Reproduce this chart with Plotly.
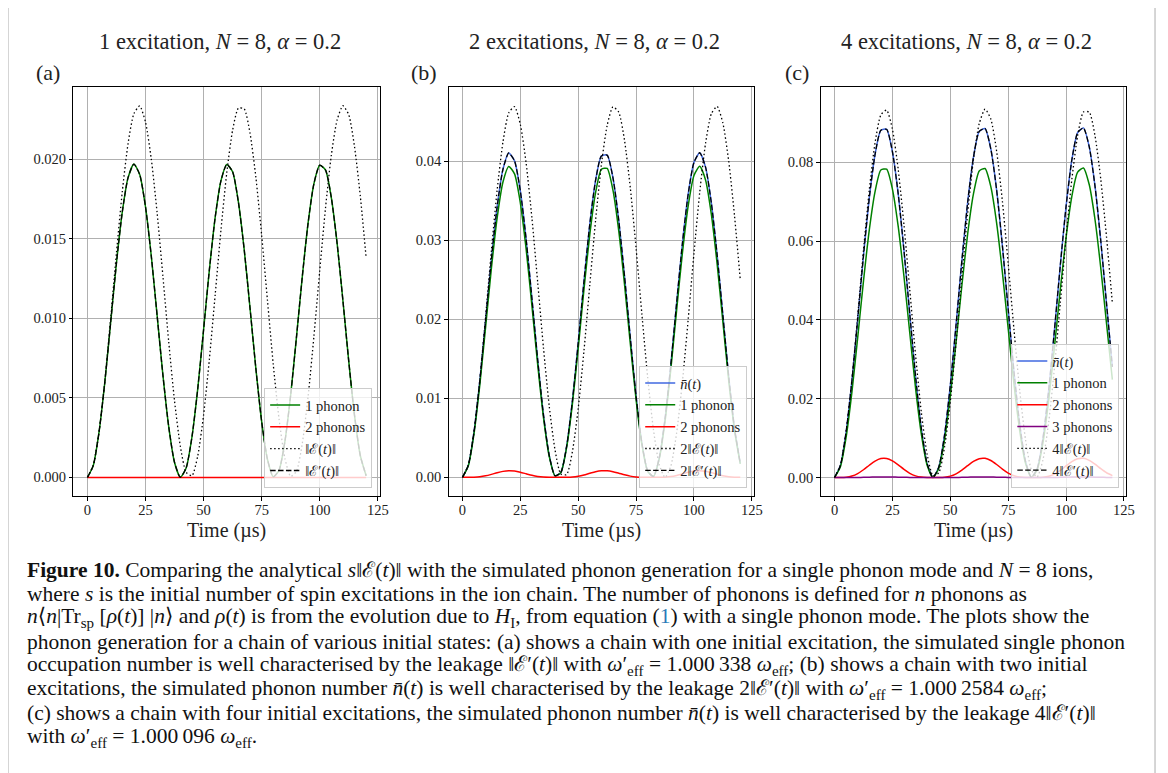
import plotly.graph_objects as go

# the page adds an 8 px body margin; the figure is sized and placed to compensate
OFF = 8
FW, FH = 1160, 765

# ---------------- data ----------------
t = [i * 2.5 for i in range(49)]  # time in microseconds, 0 .. 120

# panel (a): 1 excitation
one_phonon_a = [0, 0.00074, 0.00285, 0.00600, 0.00973, 0.01348, 0.01668, 0.01885, 0.01970, 0.01905,
                0.01702, 0.01391, 0.01019, 0.00643, 0.00319, 0.00094, 0.00001, 0.00059, 0.00254, 0.00558,
                0.00927, 0.01305, 0.01635, 0.01866, 0.01968, 0.01922, 0.01731, 0.01432, 0.01065, 0.00687,
                0.00353, 0.00114, 0.00004, 0.00045, 0.00224, 0.00518, 0.00882, 0.01261, 0.01599, 0.01846,
                0.01963, 0.01933, 0.01760, 0.01472, 0.01111, 0.00731, 0.00389, 0.00136, 0.00010]
two_phonons_a = [0.0] * 49
leak_a = [0, 0.00075, 0.00286, 0.00608, 0.01000, 0.01412, 0.01796, 0.02100, 0.02287, 0.02336,
          0.02234, 0.02002, 0.01665, 0.01264, 0.00853, 0.00481, 0.00196, 0.00032, 0.00010, 0.00135,
          0.00391, 0.00743, 0.01148, 0.01557, 0.01917, 0.02183, 0.02322, 0.02317, 0.02165, 0.01890,
          0.01525, 0.01115, 0.00711, 0.00367, 0.00121, 0.00006, 0.00038, 0.00213, 0.00508, 0.00885,
          0.01298, 0.01694, 0.02026, 0.02248, 0.02337, 0.02281, 0.02079, 0.01767, 0.01380]
leak_prime_a = one_phonon_a

# panel (b): 2 excitations
nbar_b = [0, 0.00150, 0.00577, 0.01221, 0.01984, 0.02757, 0.03428, 0.03899, 0.04105, 0.04005,
          0.03625, 0.03016, 0.02267, 0.01487, 0.00790, 0.00275, 0.00020, 0.00062, 0.00394, 0.00970,
          0.01702, 0.02485, 0.03205, 0.03758, 0.04066, 0.04078, 0.03792, 0.03256, 0.02546, 0.01765,
          0.01025, 0.00434, 0.00081, 0.00012, 0.00244, 0.00739, 0.01426, 0.02205, 0.02960, 0.03585,
          0.03986, 0.04108, 0.03926, 0.03474, 0.02816, 0.02047, 0.01279, 0.00624, 0.00177]
one_phonon_b = [0, 0.00144, 0.00554, 0.01170, 0.01902, 0.02643, 0.03286, 0.03738, 0.03935, 0.03840,
                0.03475, 0.02891, 0.02173, 0.01426, 0.00757, 0.00264, 0.00019, 0.00060, 0.00378, 0.00930,
                0.01632, 0.02382, 0.03072, 0.03603, 0.03898, 0.03909, 0.03635, 0.03122, 0.02441, 0.01692,
                0.00983, 0.00416, 0.00077, 0.00011, 0.00234, 0.00709, 0.01367, 0.02113, 0.02838, 0.03437,
                0.03821, 0.03938, 0.03764, 0.03330, 0.02700, 0.01963, 0.01227, 0.00598, 0.00170]
two_phonons_b = [0, 0.000001, 0.000017, 0.000074, 0.000196, 0.000378, 0.000584, 0.000756, 0.000838, 0.000798,
                 0.000654, 0.000452, 0.000256, 0.000110, 0.000031, 0.000004, 0, 0, 0.000008, 0.000047,
                 0.000144, 0.000307, 0.000511, 0.000702, 0.000822, 0.000827, 0.000715, 0.000527, 0.000322, 0.000155,
                 0.000052, 0.000009, 0, 0, 0.000003, 0.000027, 0.000101, 0.000242, 0.000436, 0.000639,
                 0.000790, 0.000839, 0.000767, 0.000600, 0.000394, 0.000208, 0.000081, 0.000019, 0.000002]
leak_b = [0, 0.00152, 0.00582, 0.01236, 0.02031, 0.02867, 0.03639, 0.04246, 0.04613, 0.04691,
          0.04467, 0.03978, 0.03283, 0.02468, 0.01637, 0.00898, 0.00345, 0.00041, 0.00035, 0.00326,
          0.00871, 0.01605, 0.02434, 0.03252, 0.03955, 0.04453, 0.04688, 0.04621, 0.04265, 0.03665,
          0.02900, 0.02065, 0.01265, 0.00603, 0.00162, 0.00000, 0.00141, 0.00561, 0.01206, 0.01998,
          0.02835, 0.03611, 0.04226, 0.04600, 0.04694, 0.04482, 0.04003, 0.03315, 0.02502]
leak_prime_b = nbar_b

# panel (c): 4 excitations
nbar_c = [0, 0.00299, 0.01154, 0.02448, 0.04009, 0.05627, 0.07090, 0.08197, 0.08813, 0.08837,
          0.08267, 0.07196, 0.05755, 0.04140, 0.02563, 0.01242, 0.00351, 0.00002, 0.00260, 0.01071,
          0.02335, 0.03880, 0.05503, 0.06984, 0.08128, 0.08784, 0.08856, 0.08338, 0.07301, 0.05879,
          0.04271, 0.02685, 0.01339, 0.00406, 0.00008, 0.00219, 0.00987, 0.02220, 0.03750, 0.05376,
          0.06877, 0.08058, 0.08752, 0.08872, 0.08396, 0.07394, 0.06002, 0.04399, 0.02807]
one_phonon_c = [0, 0.00265, 0.01022, 0.02167, 0.03550, 0.04983, 0.06277, 0.07257, 0.07803, 0.07824,
                0.07320, 0.06371, 0.05095, 0.03666, 0.02269, 0.01100, 0.00310, 0.00002, 0.00230, 0.00948,
                0.02068, 0.03435, 0.04872, 0.06183, 0.07197, 0.07778, 0.07841, 0.07383, 0.06464, 0.05206,
                0.03782, 0.02377, 0.01185, 0.00359, 0.00007, 0.00194, 0.00874, 0.01965, 0.03320, 0.04760,
                0.06089, 0.07135, 0.07749, 0.07856, 0.07434, 0.06547, 0.05314, 0.03895, 0.02485]
two_phonons_c = [0, 0.000006, 0.000082, 0.000371, 0.000995, 0.001959, 0.003110, 0.004156, 0.004804, 0.004831,
                 0.004228, 0.003203, 0.002049, 0.001060, 0.000406, 0.000096, 0.000008, 0, 0.000004, 0.000071,
                 0.000338, 0.000931, 0.001873, 0.003017, 0.004087, 0.004774, 0.004852, 0.004301, 0.003297, 0.002138,
                 0.001128, 0.000446, 0.000111, 0.000010, 0, 0.000003, 0.000060, 0.000305, 0.000870, 0.001788,
                 0.002926, 0.004017, 0.004739, 0.004870, 0.004361, 0.003382, 0.002229, 0.001197, 0.000488]
three_phonons_c = [0, 0, 0.0000003, 0.0000031, 0.0000137, 0.0000379, 0.0000758, 0.0001172, 0.0001456, 0.0001468,
                   0.0001202, 0.0000793, 0.0000405, 0.0000151, 0.0000036, 0.0000004, 0, 0, 0, 0.0000003,
                   0.0000027, 0.0000124, 0.0000354, 0.0000724, 0.0001140, 0.0001441, 0.0001475, 0.0001233, 0.0000830, 0.0000432,
                   0.0000165, 0.0000041, 0.0000005, 0, 0, 0, 0.0000002, 0.0000023, 0.0000112, 0.0000330,
                   0.0000692, 0.0001113, 0.0001427, 0.0001486, 0.0001262, 0.0000860, 0.0000456, 0.0000180, 0.0000047]
leak_c = [0, 0.00306, 0.01172, 0.02489, 0.04087, 0.05761, 0.07294, 0.08494, 0.09200, 0.09323,
          0.08839, 0.07822, 0.06401, 0.04760, 0.03105, 0.01650, 0.00585, 0.00049, 0.00117, 0.00767,
          0.01919, 0.03427, 0.05097, 0.06712, 0.08068, 0.08982, 0.09347, 0.09098, 0.08285, 0.07013,
          0.05431, 0.03753, 0.02194, 0.00957, 0.00201, 0.00012, 0.00440, 0.01404, 0.02791, 0.04423,
          0.06089, 0.07567, 0.08675, 0.09274, 0.09274, 0.08675, 0.07567, 0.06089, 0.04423]
leak_prime_c = nbar_c

x_ticks = [0, 25, 50, 75, 100, 125]
y_ticks_a = [0.0, 0.005, 0.010, 0.015, 0.020]
y_ticks_b = [0.0, 0.01, 0.02, 0.03, 0.04]
y_ticks_c = [0.0, 0.02, 0.04, 0.06, 0.08]

titles = ["1 excitation, <i>N</i> = 8, <i>α</i> = 0.2",
          "2 excitations, <i>N</i> = 8, <i>α</i> = 0.2",
          "4 excitations, <i>N</i> = 8, <i>α</i> = 0.2"]
panel_labels = ["(a)", "(b)", "(c)"]

caption_lines = [
    "<b>Figure 10.</b> Comparing the analytical <i>s</i>‖ℰ(<i>t</i>)‖ with the simulated phonon generation for a single phonon mode and <i>N</i> = 8 ions,",
    "where <i>s</i> is the initial number of spin excitations in the ion chain. The number of phonons is defined for <i>n</i> phonons as",
    "<i>n</i>⟨<i>n</i>|Tr<sub>sp</sub> [<i>ρ</i>(<i>t</i>)] |<i>n</i>⟩ and <i>ρ</i>(<i>t</i>) is from the evolution due to <i>H</i><sub>I</sub>, from equation (<span style='color:#2a7ab8'>1</span>) with a single phonon mode. The plots show the",
    "phonon generation for a chain of various initial states: (a) shows a chain with one initial excitation, the simulated single phonon",
    "occupation number is well characterised by the leakage ‖ℰ′(<i>t</i>)‖ with <i>ω</i>′<sub>eff</sub> = 1.000\u2009338 <i>ω</i><sub>eff</sub>; (b) shows a chain with two initial",
    "excitations, the simulated phonon number <i>n̄</i>(<i>t</i>) is well characterised by the leakage 2‖ℰ′(<i>t</i>)‖ with <i>ω</i>′<sub>eff</sub> = 1.000\u20092584 <i>ω</i><sub>eff</sub>;",
    "(c) shows a chain with four initial excitations, the simulated phonon number <i>n̄</i>(<i>t</i>) is well characterised by the leakage 4‖ℰ′(<i>t</i>)‖",
    "with <i>ω</i>′<sub>eff</sub> = 1.000\u2009096 <i>ω</i><sub>eff</sub>.",
]

# ---------------- styling ----------------
SERIF = "Liberation Serif, DejaVu Serif, serif"
GREEN, RED, BLUE, PURPLE = "#008000", "#ff0000", "#4169e1", "#800080"
DOT = "1.5px,2.5px"
DASH = "5.5px,2.4px"

def px(x):
    return (x - OFF) / FW

def py(y):
    return 1 - (y - OFF) / FH

panels = [
    dict(x0=74, x1=383, ymin=-0.00117, ymax=0.02455, yt=y_ticks_a, fmt=".3f", lab=-40,
         leg=dict(right=375, bottom=488)),
    dict(x0=452, x1=760, ymin=-0.00236, ymax=0.0494, yt=y_ticks_b, fmt=".2f", lab=-40,
         leg=dict(right=753, bottom=488)),
    dict(x0=827, x1=1135, ymin=-0.0047, ymax=0.0991, yt=y_ticks_c, fmt=".2f", lab=-38,
         leg=dict(right=1128, bottom=488)),
]
Y0, Y1 = 87, 496

fig = go.Figure()

def add(xa, ya, leg, y, name, color, dash="solid", width=1.5):
    fig.add_trace(go.Scatter(x=t, y=y, mode="lines", name=name, xaxis=xa, yaxis=ya,
                             legend=leg, line=dict(color=color, width=width, dash=dash,
                                                   shape="spline", smoothing=0.6)))

# panel a
add("x", "y", "legend", one_phonon_a, "1 phonon", GREEN)
add("x", "y", "legend", two_phonons_a, "2 phonons", RED)
add("x", "y", "legend", leak_a, "‖ℰ(<i>t</i>)‖", "black", DOT, 1.3)
add("x", "y", "legend", leak_prime_a, "‖ℰ′(<i>t</i>)‖", "black", DASH, 1.3)
# panel b
add("x2", "y2", "legend2", nbar_b, "<i>n̄</i>(<i>t</i>)", BLUE)
add("x2", "y2", "legend2", one_phonon_b, "1 phonon", GREEN)
add("x2", "y2", "legend2", two_phonons_b, "2 phonons", RED)
add("x2", "y2", "legend2", leak_b, "2‖ℰ(<i>t</i>)‖", "black", DOT, 1.3)
add("x2", "y2", "legend2", leak_prime_b, "2‖ℰ′(<i>t</i>)‖", "black", DASH, 1.3)
# panel c
add("x3", "y3", "legend3", nbar_c, "<i>n̄</i>(<i>t</i>)", BLUE)
add("x3", "y3", "legend3", one_phonon_c, "1 phonon", GREEN)
add("x3", "y3", "legend3", two_phonons_c, "2 phonons", RED)
add("x3", "y3", "legend3", three_phonons_c, "3 phonons", PURPLE)
add("x3", "y3", "legend3", leak_c, "4‖ℰ(<i>t</i>)‖", "black", DOT, 1.3)
add("x3", "y3", "legend3", leak_prime_c, "4‖ℰ′(<i>t</i>)‖", "black", DASH, 1.3)

axis_common = dict(showline=True, linecolor="black", linewidth=1, mirror=True,
                   ticks="outside", ticklen=3.5, tickwidth=0.8, tickcolor="black",
                   showgrid=True, gridcolor="#b0b0b0", gridwidth=0.8, zeroline=False,
                   tickfont=dict(family=SERIF, size=14.5, color="#222"))

layout = dict(width=FW, height=FH, margin=dict(l=0, r=0, t=0, b=0),
              paper_bgcolor="white", plot_bgcolor="white", showlegend=True)

annotations = []
for i, p in enumerate(panels):
    sfx = "" if i == 0 else str(i + 1)
    layout["xaxis" + sfx] = dict(axis_common, domain=[px(p["x0"]), px(p["x1"])],
                                 range=[-6, 126], tickvals=x_ticks, ticklabelstandoff=-3,
                                 anchor="y" + sfx)
    layout["yaxis" + sfx] = dict(axis_common, domain=[py(Y1), py(Y0)],
                                 range=[p["ymin"], p["ymax"]], tickvals=p["yt"],
                                 tickformat=p["fmt"], anchor="x" + sfx)
    layout["legend" + sfx] = dict(x=px(p["leg"]["right"]), y=py(p["leg"]["bottom"]),
                                  xanchor="right", yanchor="bottom",
                                  bgcolor="rgba(255,255,255,0.8)", bordercolor="#cccccc",
                                  borderwidth=1, itemwidth=30, tracegroupgap=0,
                                  font=dict(family=SERIF, size=14.5, color="#222"))
    cx = (p["x0"] + p["x1"]) / 2
    annotations.append(dict(text=titles[i], x=px(cx - 7), y=py(42), xref="paper", yref="paper",
                            showarrow=False, xanchor="center", yanchor="middle",
                            font=dict(family=SERIF, size=22.5, color="#222")))
    annotations.append(dict(text=panel_labels[i], x=px(p["x0"] + p["lab"]), y=py(72), xref="paper",
                            yref="paper", showarrow=False, xanchor="left", yanchor="middle",
                            font=dict(family=SERIF, size=22, color="#222")))
    annotations.append(dict(text="Time (µs)", x=px(cx), y=py(530), xref="paper", yref="paper",
                            showarrow=False, xanchor="center", yanchor="middle",
                            font=dict(family=SERIF, size=20, color="#222")))

for k, line in enumerate(caption_lines):
    annotations.append(dict(text=line, x=px(25), y=py(570 + k * 23.9), xref="paper", yref="paper",
                            showarrow=False, xanchor="left", yanchor="middle", align="left",
                            font=dict(family=SERIF, size=21.5, color="#111")))

layout["annotations"] = annotations
layout["shapes"] = [dict(type="rect", xref="paper", yref="paper",
                         x0=px(8), x1=px(1164), y0=py(790), y1=py(7),
                         line=dict(color="#c8c8c8", width=1.5), fillcolor="rgba(0,0,0,0)",
                         layer="below")]

fig.update_layout(**layout)
fig.write_html("out.html")
